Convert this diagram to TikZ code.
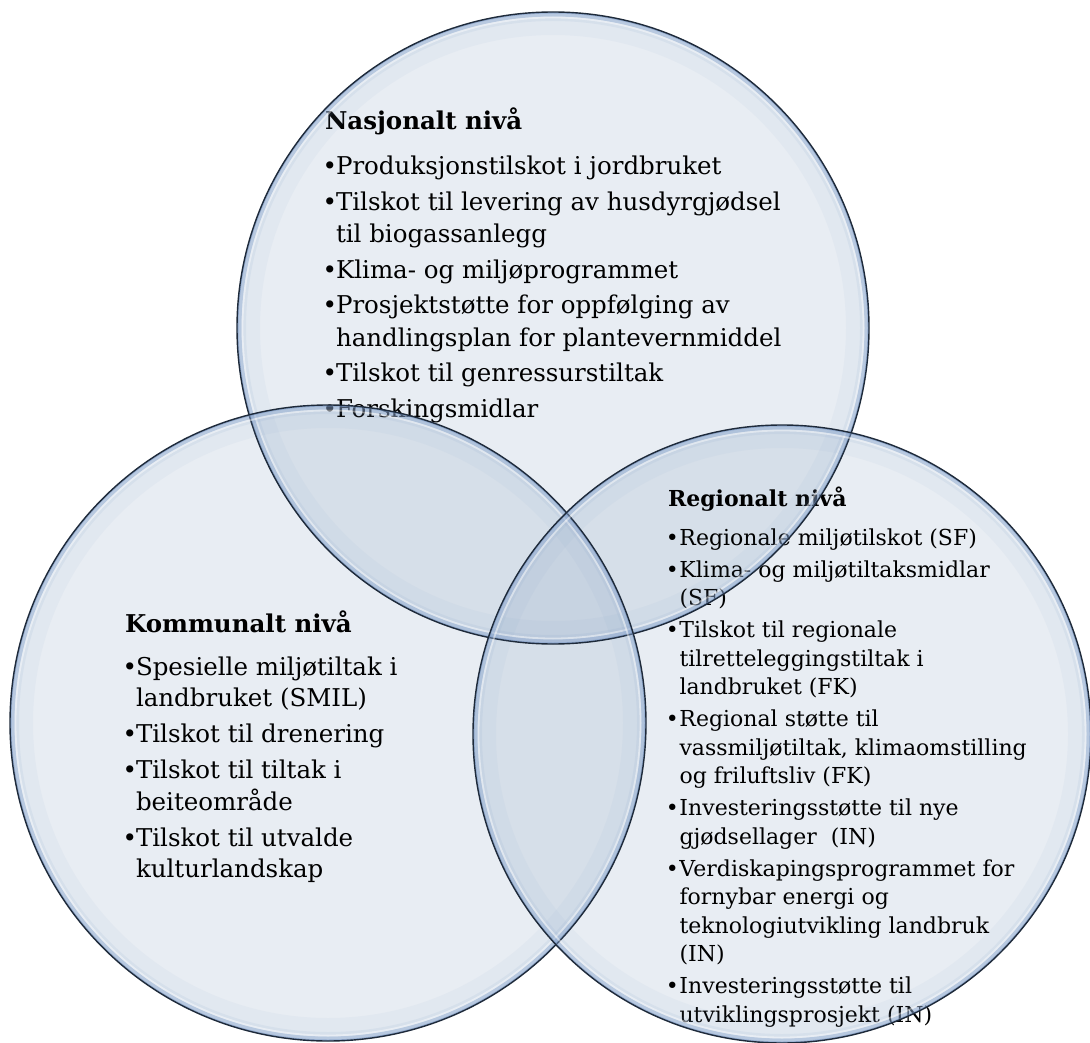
\documentclass[tikz,border=0pt]{standalone}
\usepackage{fontspec}
\setmainfont{DejaVu Serif}
\definecolor{fillc}{HTML}{8FA7C4}
\definecolor{glowc}{HTML}{7C9CC8}
\definecolor{bandc}{HTML}{8DA8D0}
\definecolor{innerc}{HTML}{6F8FBF}
\definecolor{edgec}{HTML}{1E2A3A}
\newlength\bw
\newcommand\li[1]{\hbox{\makebox[\bw][l]{\hspace*{-0.1em}•}#1}}
\newcommand\lc[1]{\hbox{\hspace*{\bw}#1}}
\newcommand\isep[1]{\vskip #1}
\newcommand\bubblerim[3]{%
  \begin{scope}
    \clip (#1,#2) circle [radius=#3];
    \draw[glowc, opacity=0.06, line width=46pt] (#1,#2) circle [radius=#3];
    \draw[glowc, opacity=0.10, line width=18pt] (#1,#2) circle [radius=#3];
    \draw[bandc, opacity=0.40, line width=9pt] (#1,#2) circle [radius=#3];
    \draw[white, opacity=0.45, line width=1.8pt] (#1,#2) circle [radius={#3-5.5pt}];
    \draw[innerc, opacity=0.5, line width=3pt] (#1,#2) circle [radius=#3];
  \end{scope}
  \draw[edgec, line width=1.4pt] (#1,#2) circle [radius=#3];
}
\tikzset{
  bubblefill/.style={fill=fillc, fill opacity=0.2, draw=none},
  txt/.style={anchor=base west, inner sep=0pt, outer sep=0pt, text=black},
}
\begin{document}
\begin{tikzpicture}[x=1pt, y=-1pt]
\fill[white] (0,0) rectangle (1090,1043);
\useasboundingbox (0,0) rectangle (1090,1043);
% fills
\fill[bubblefill] (553,328) circle [radius=316pt];
\fill[bubblefill] (328,723) circle [radius=318pt];
\fill[bubblefill] (782,734) circle [radius=309pt];
% texts
\node[txt] (nat) at (325,130) {\fontsize{24.5}{32.5}\selectfont\setlength\bw{11pt}\lineskiplimit=-100pt\vtop{%
  \hbox{\bfseries Nasjonalt nivå}\vskip12.5pt
  \li{Produksjonstilskot i jordbruket}\isep{3pt}
  \li{Tilskot til levering av husdyrgjødsel}
  \lc{til biogassanlegg}\isep{3pt}
  \li{Klima- og miljøprogrammet}\isep{3pt}
  \li{Prosjektstøtte for oppfølging av}
  \lc{handlingsplan for plantevernmiddel}\isep{3pt}
  \li{Tilskot til genressurstiltak}\isep{3pt}
  \li{Forskingsmidlar}}};
\node[txt] (kom) at (125,632) {\fontsize{24.5}{31.5}\selectfont\setlength\bw{11pt}\lineskiplimit=-100pt\vtop{%
  \hbox{\bfseries Kommunalt nivå}\vskip11.5pt
  \li{Spesielle miljøtiltak i}
  \lc{landbruket (SMIL)}\isep{4.5pt}
  \li{Tilskot til drenering}\isep{4.5pt}
  \li{Tilskot til tiltak i}
  \lc{beiteområde}\isep{4.5pt}
  \li{Tilskot til utvalde}
  \lc{kulturlandskap}}};
\node[txt] (reg) at (668,506) {\fontsize{22}{28.5}\selectfont\setlength\bw{11.5pt}\lineskiplimit=-100pt\vtop{%
  \hbox{\bfseries Regionalt nivå}\vskip10.5pt
  \li{Regionale miljøtilskot (SF)}\isep{3.5pt}
  \li{Klima- og miljøtiltaksmidlar}
  \lc{(SF)}\isep{3.5pt}
  \li{Tilskot til regionale}
  \lc{tilretteleggingstiltak i}
  \lc{landbruket (FK)}\isep{3.5pt}
  \li{Regional støtte til}
  \lc{vassmiljøtiltak, klimaomstilling}
  \lc{og friluftsliv (FK)}\isep{3.5pt}
  \li{Investeringsstøtte til nye}
  \lc{gjødsellager\ \ (IN)}\isep{3.5pt}
  \li{Verdiskapingsprogrammet for}
  \lc{fornybar energi og}
  \lc{teknologiutvikling landbruk}
  \lc{(IN)}\isep{3.5pt}
  \li{Investeringsstøtte til}
  \lc{utviklingsprosjekt (IN)}}};
% rims and edges
\bubblerim{553}{328}{316pt}
\bubblerim{328}{723}{318pt}
\bubblerim{782}{734}{309pt}
\end{tikzpicture}
\end{document}
